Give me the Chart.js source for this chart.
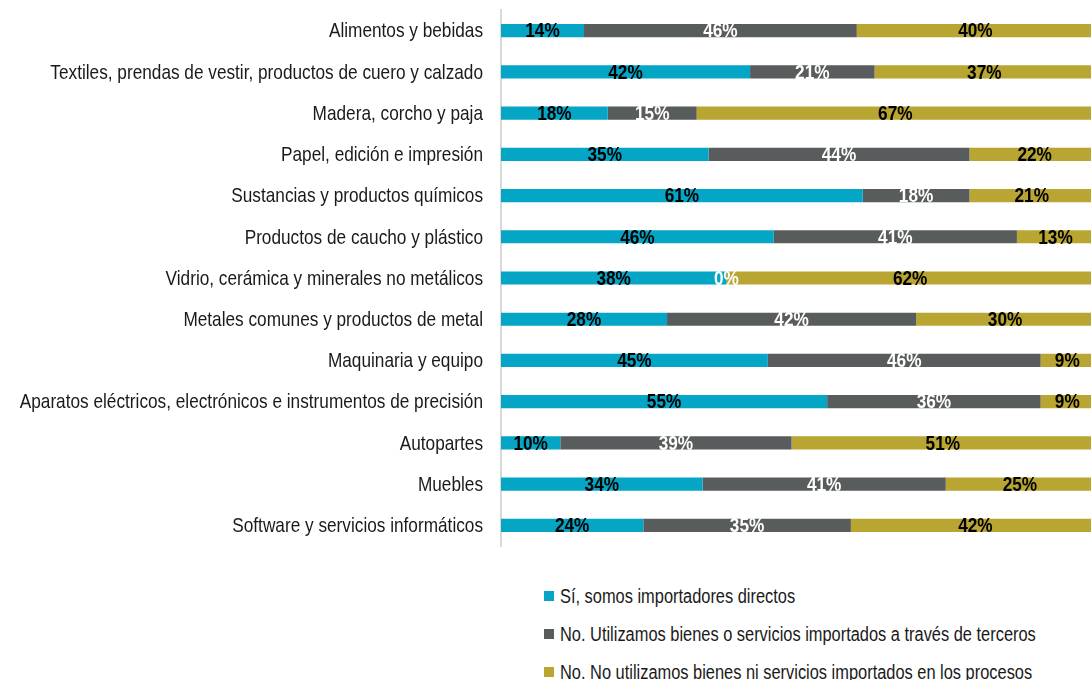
<!DOCTYPE html>
<html>
<head>
<meta charset="utf-8">
<script src="https://cdn.jsdelivr.net/npm/chart.js@4.4.1/dist/chart.umd.min.js"></script>
<style>
  html, body { margin: 0; padding: 0; background: #fff; overflow: hidden; }
  #wrap { position: relative; width: 1094px; height: 556px; }
  #legend { position: absolute; left: 544px; top: 577px; font-family: 'Liberation Sans', Arial, sans-serif; font-size: 20px; color: #1a1a1a; }
  .item { height: 38px; display: flex; align-items: center; white-space: nowrap; }
  .box { width: 10px; height: 10px; margin-right: 6px; display: inline-block; flex: none; }
  .txt { display: inline-block; transform: scaleX(0.82); transform-origin: left center; }
</style>
</head>
<body>
<div id="wrap"><canvas id="chart"></canvas></div>
<div id="legend"></div>
<script>
// no Arial Narrow here, so Liberation Sans squeezed horizontally
const FONT = "'Liberation Sans', Arial, sans-serif"
const SQUEEZE = 0.82

const categories = [
    'Alimentos y bebidas',
    'Textiles, prendas de vestir, productos de cuero y calzado',
    'Madera, corcho y paja',
    'Papel, edición e impresión',
    'Sustancias y productos químicos',
    'Productos de caucho y plástico',
    'Vidrio, cerámica y minerales no metálicos',
    'Metales comunes y productos de metal',
    'Maquinaria y equipo',
    'Aparatos eléctricos, electrónicos e instrumentos de precisión',
    'Autopartes',
    'Muebles',
    'Software y servicios informáticos'
]

const seriesNames = [
    'Sí, somos importadores directos',
    'No. Utilizamos bienes o servicios importados a través de terceros',
    'No. No utilizamos bienes ni servicios importados en los procesos'
]

const directos  = [14, 42, 18, 35, 61, 46, 38, 28, 45, 55, 10, 34, 24]
const terceros  = [46, 21, 15, 44, 18, 41,  0, 42, 46, 36, 39, 41, 35]
const noImporta = [40, 37, 67, 22, 21, 13, 62, 30,  9,  9, 51, 25, 42]

const colors = ['#04A5C5', '#595C5D', '#B8A532']
const labelColors = ['#000', '#fff', '#000']

function squeezedText(ctx, text, x, y) {
    ctx.save()
    ctx.translate(x, y)
    ctx.scale(SQUEEZE, 1)
    ctx.fillText(text, 0, 0)
    ctx.restore()
}

// category names left of the axis
const categoryLabels = {
    id: 'categoryLabels',
    afterDraw(chart) {
        const ctx = chart.ctx
        const scale = chart.scales.y
        ctx.save()
        ctx.font = '21px ' + FONT
        ctx.fillStyle = '#1a1a1a'
        ctx.textAlign = 'right'
        ctx.textBaseline = 'middle'
        categories.forEach((name, i) => {
            squeezedText(ctx, name, scale.right - 18, scale.getPixelForTick(i) + 1)
        })
        ctx.restore()
    }
}

// percentage in the middle of each segment
const segmentLabels = {
    id: 'segmentLabels',
    afterDatasetsDraw(chart) {
        const ctx = chart.ctx
        ctx.save()
        ctx.font = 'bold 21px ' + FONT
        ctx.textAlign = 'center'
        ctx.textBaseline = 'middle'
        chart.data.datasets.forEach((ds, i) => {
            const meta = chart.getDatasetMeta(i)
            meta.data.forEach((bar, j) => {
                ctx.fillStyle = labelColors[i]
                squeezedText(ctx, ds.data[j] + '%', (bar.x + bar.base) / 2, bar.y + 1)
            })
        })
        ctx.restore()
    }
}

const ctx = document.getElementById('chart').getContext('2d')

new Chart(ctx, {
    type: 'bar',
    data: {
        labels: categories,
        datasets: [directos, terceros, noImporta].map((d, i) => ({
            label: seriesNames[i],
            data: d,
            backgroundColor: colors[i],
            borderWidth: 0,
            barPercentage: 1,
            categoryPercentage: 0.32
        }))
    },
    options: {
        indexAxis: 'y',
        responsive: true,
        maintainAspectRatio: false,
        animation: false,
        layout: { padding: { top: 10, bottom: 10, left: 0, right: 0 } },
        plugins: {
            legend: { display: false },
            tooltip: { enabled: false }
        },
        scales: {
            x: {
                stacked: true,
                min: 0,
                max: 100,
                display: false
            },
            y: {
                stacked: true,
                grid: { display: false, drawTicks: false },
                border: { display: true, color: '#D9D9D9', width: 2 },
                ticks: { display: false },
                afterFit(scale) { scale.width = 501 }
            }
        }
    },
    plugins: [segmentLabels, categoryLabels]
})

// html legend, one item per line
const legend = document.getElementById('legend')
seriesNames.forEach((name, i) => {
    const el = document.createElement('div')
    el.className = 'item'
    el.innerHTML = '<span class="box" style="background:' + colors[i] + '"></span>'
    const t = document.createElement('span')
    t.className = 'txt'
    t.textContent = name
    el.appendChild(t)
    legend.appendChild(el)
})
</script>
</body>
</html>
